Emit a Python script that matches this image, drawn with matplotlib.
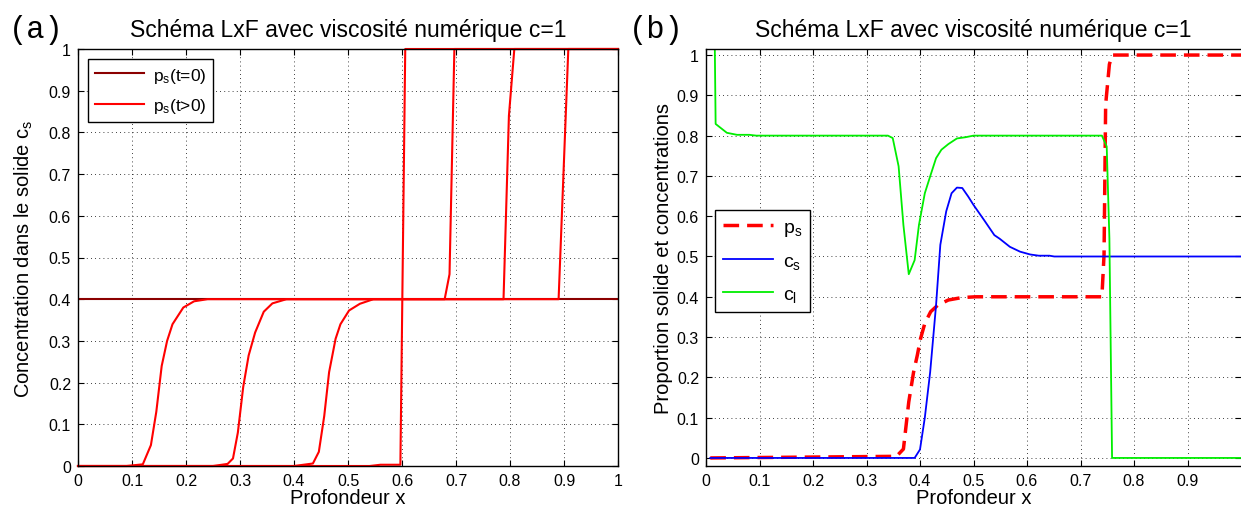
import numpy as np
import matplotlib
matplotlib.use("Agg")
import matplotlib.pyplot as plt
from matplotlib.ticker import FormatStrFormatter

plt.rcParams['font.family'] = ['Liberation Sans', 'DejaVu Sans']
plt.rcParams['mathtext.default'] = 'regular'

# === Data, panel (a): p_s profiles ===
x_init = [0.0, 1.0]
p_init = [0.4, 0.4]

x_t1 = [0, 0.09, 0.12, 0.135, 0.145, 0.155, 0.165, 0.175, 0.195, 0.215, 0.24, 0.679, 0.688, 0.697, 1.0]
p_t1 = [0, 0, 0.004, 0.05, 0.13, 0.24, 0.30, 0.34, 0.38, 0.395, 0.4, 0.4, 0.46, 1.0, 1.0]

x_t2 = [0, 0.25, 0.277, 0.287, 0.296, 0.306, 0.316, 0.328, 0.344, 0.36, 0.386, 0.788, 0.798, 0.808, 1.0]
p_t2 = [0, 0, 0.005, 0.018, 0.08, 0.19, 0.265, 0.32, 0.37, 0.39, 0.4, 0.4, 0.84, 1.0, 1.0]

x_t3 = [0, 0.40, 0.435, 0.446, 0.456, 0.465, 0.477, 0.486, 0.502, 0.522, 0.547, 0.89, 0.908, 1.0]
p_t3 = [0, 0, 0.006, 0.034, 0.12, 0.225, 0.305, 0.34, 0.373, 0.389, 0.4, 0.4, 1.0, 1.0]

x_t4 = [0, 0.54, 0.56, 0.597, 0.606, 1.0]
p_t4 = [0, 0, 0.003, 0.003, 1.0, 1.0]

# === Data, panel (b): p_s, c_s, c_l ===
x_ps = [0.008, 0.356, 0.369, 0.379, 0.388, 0.395, 0.401, 0.409, 0.42, 0.433, 0.453, 0.478, 0.504,
        0.74, 0.744, 0.747, 0.754, 0.759, 1.0]
ps = [0, 0.004, 0.022, 0.139, 0.213, 0.255, 0.296, 0.334, 0.363, 0.379, 0.392, 0.398, 0.4,
      0.4, 0.504, 0.877, 0.977, 1.0, 1.0]

x_cs = [0.008, 0.39, 0.40, 0.409, 0.419, 0.43, 0.438, 0.449, 0.459, 0.469, 0.479, 0.49, 0.5, 0.52,
        0.539, 0.549, 0.568, 0.587, 0.606, 0.622, 0.642, 0.651, 1.0]
cs = [0, 0, 0.021, 0.10, 0.213, 0.379, 0.529, 0.612, 0.657, 0.671, 0.67, 0.649, 0.628, 0.59,
      0.553, 0.544, 0.524, 0.512, 0.505, 0.502, 0.502, 0.5, 0.5]

x_cl = [0.015, 0.018, 0.039, 0.058, 0.081, 0.094, 0.34, 0.349, 0.36, 0.369, 0.379, 0.39, 0.398,
        0.409, 0.42, 0.43, 0.44, 0.453, 0.469, 0.485, 0.5, 0.74, 0.749, 0.754, 0.759, 1.0]
cl = [1.2, 0.829, 0.807, 0.802, 0.802, 0.8, 0.8, 0.794, 0.724, 0.578, 0.456, 0.491, 0.578,
      0.657, 0.703, 0.744, 0.765, 0.779, 0.793, 0.796, 0.8, 0.8, 0.773, 0.545, 0.0, 0.0]

title = 'Schéma LxF avec viscosité numérique c=1'


def style_axes(ax):
    ax.grid(True, linestyle=(0, (1, 4)), color='black', linewidth=0.6)
    ax.tick_params(direction='in', top=True, right=True, labelsize=11.5, length=4, pad=5)
    ax.xaxis.set_major_formatter(FormatStrFormatter('%g'))
    ax.yaxis.set_major_formatter(FormatStrFormatter('%g'))
    for s in ax.spines.values():
        s.set_linewidth(1.0)


fig = plt.figure(figsize=(12.41, 5.10), dpi=100)

# === (a) ===
ax1 = fig.add_axes([78 / 1241, 43 / 510, 540 / 1241, 417 / 510])
ax1.plot(x_init, p_init, color='#8b0000', lw=1.5, label='p$_s$(t=0)')
ax1.plot(x_t1, p_t1, color='red', lw=1.5, label='p$_s$(t>0)', clip_on=False)
for xx, yy in [(x_t2, p_t2), (x_t3, p_t3), (x_t4, p_t4)]:
    ax1.plot(xx, yy, color='red', lw=1.5, clip_on=False)
ax1.set_xlim(0, 1)
ax1.set_ylim(0, 1)
ax1.set_xticks(np.arange(0, 1.01, 0.1))
ax1.set_yticks(np.arange(0, 1.01, 0.1))
style_axes(ax1)
ax1.set_title(title, fontsize=16.5, pad=9)
ax1.set_xlabel('Profondeur x', fontsize=14.5, labelpad=0)
ax1.set_ylabel('Concentration dans le solide c$_s$', fontsize=14.5, labelpad=10)
leg1 = ax1.legend(loc='upper left', bbox_to_anchor=(0.0, 1.002), fontsize=12.5, handlelength=2.8,
                  labelspacing=0.65, handletextpad=0.5, fancybox=False, edgecolor='black',
                  framealpha=1, borderaxespad=0.6)
leg1.get_frame().set_linewidth(1.0)
fig.text(0.007, 0.925, '(a)', fontsize=22, family='Liberation Mono')

# === (b) ===
ax2 = fig.add_axes([706 / 1241, 43 / 510, 535 / 1241, 417 / 510])
ax2.plot(x_ps, ps, color='red', lw=2.5, dashes=(4.5, 2.3), label='p$_s$')
ax2.plot(x_cs, cs, color='blue', lw=1.3, label='c$_s$')
ax2.plot(x_cl, cl, color='#00ee00', lw=1.3, label='c$_l$')
ax2.set_xlim(0, 1.0)
ax2.set_ylim(-0.02, 1.015)
ax2.set_xticks(np.arange(0, 0.95, 0.1))
ax2.set_yticks(np.arange(0, 1.01, 0.1))
style_axes(ax2)
ax2.spines['right'].set_visible(False)
ax2.set_title(title, fontsize=16.5, pad=9)
ax2.set_xlabel('Profondeur x', fontsize=14.5, labelpad=0)
ax2.set_ylabel('Proportion solide et concentrations', fontsize=14.5, labelpad=3)
leg2 = ax2.legend(loc='upper left', bbox_to_anchor=(0.017, 0.613), fontsize=14, handlelength=2.6,
                  labelspacing=0.75, handletextpad=0.5, fancybox=False, edgecolor='black',
                  framealpha=1, borderaxespad=0.0)
leg2.get_frame().set_linewidth(1.0)
fig.text(0.507, 0.925, '(b)', fontsize=22, family='Liberation Mono')

fig.savefig('out.png', dpi=100)
